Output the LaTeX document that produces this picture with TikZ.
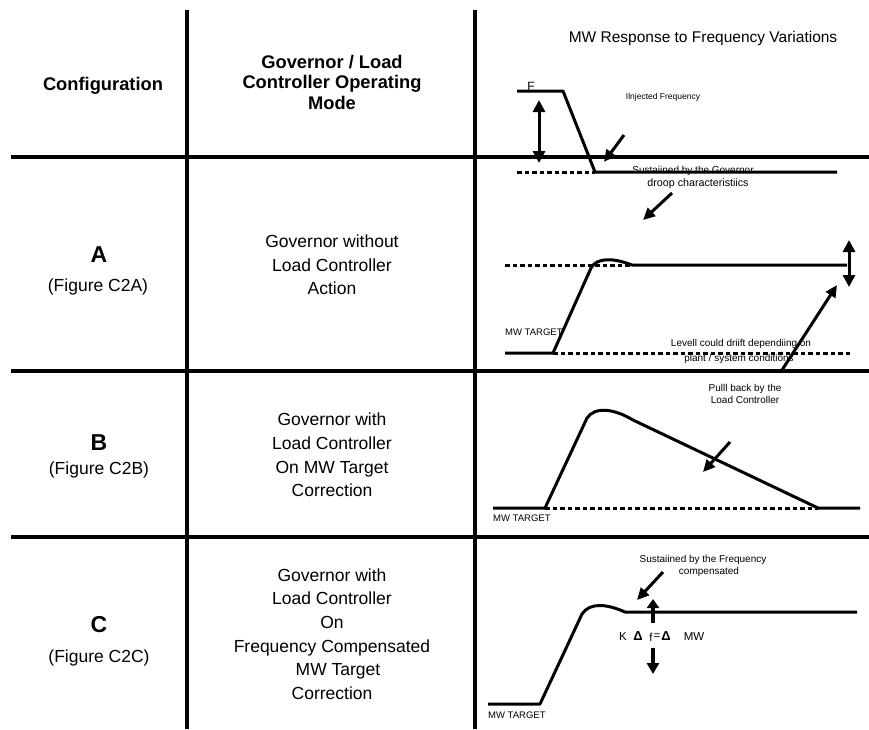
\documentclass[tikz,border=0pt]{standalone}
\usepackage{fontspec}
\setmainfont{Liberation Sans}
\usetikzlibrary{arrows.meta}
\tikzset{
  grid/.style={line width=3.5pt, draw=black},
  trace/.style={line width=3pt, line join=round, draw=black},
  dotline/.style={line width=3pt, draw=black, dash pattern=on 4.5pt off 3pt},
  arr/.style={line width=3pt, draw=black, -{Triangle[length=12pt,width=11pt]}},
  darr/.style={line width=3pt, draw=black, {Triangle[length=12pt,width=12pt]}-{Triangle[length=12pt,width=12pt]}},
  hdr/.style={font=\fontsize{18.3}{20.5}\selectfont\bfseries, align=center, inner sep=0pt},
  letter/.style={font=\fontsize{23}{26}\selectfont\bfseries, inner sep=0pt},
  figlbl/.style={font=\fontsize{17.5}{20}\selectfont, inner sep=0pt},
  mode/.style={font=\fontsize{17.5}{23.7}\selectfont, align=center, inner sep=0pt},
  small/.style={font=\fontsize{10}{12}\selectfont, inner sep=0pt, align=center},
  tgt/.style={font=\fontsize{9.5}{11}\selectfont, inner sep=0pt, anchor=west},
}
\begin{document}
\begin{tikzpicture}[x=1pt,y=-1pt]
\useasboundingbox (0,0) rectangle (869,729);
% grid
\coordinate (v1t) at (187,10); \coordinate (v1b) at (187,729);
\coordinate (v2t) at (475,10); \coordinate (v2b) at (475,729);
\coordinate (h1l) at (11,157); \coordinate (h1r) at (869,157);
\coordinate (h2l) at (11,371); \coordinate (h2r) at (869,371);
\coordinate (h3l) at (11,537); \coordinate (h3r) at (869,537);
\draw[grid] (v1t) -- (v1b);
\draw[grid] (v2t) -- (v2b);
\draw[grid] (h1l) -- (h1r);
\draw[grid] (h2l) -- (h2r);
\draw[grid] (h3l) -- (h3r);
% headers
\node[hdr] (cfg) at (103,86) {Configuration};
\node[hdr] (opmode) at (332,82) {Governor / Load\\Controller Operating\\Mode};
\node[font=\fontsize{15.5}{18}\selectfont, inner sep=0pt] (title) at (703,38) {MW Response to Frequency Variations};
% left column
\node[letter] (la) at (99,255) {A};
\node[figlbl] (fa) at (98,287) {(Figure C2A)};
\node[letter] (lb) at (99,443) {B};
\node[figlbl] (fb) at (99,470) {(Figure C2B)};
\node[letter] (lc) at (99,625) {C};
\node[figlbl] (fc) at (99,658) {(Figure C2C)};
% middle column
\node[mode] (ma) at (332,265) {Governor without\\Load Controller\\Action};
\node[mode] (mb) at (332,455) {Governor with\\Load Controller\\On MW Target\\Correction};
\node[mode] (mc) at (332,634) {Governor with\\Load Controller\\On\\Frequency Compensated\\\hspace*{12pt}MW Target\\Correction};
% ---------- top frequency plot
\node[font=\fontsize{12}{14}\selectfont, inner sep=0pt] (F) at (531,86) {F};
\node[font=\fontsize{8.5}{10}\selectfont, inner sep=0pt] (inj) at (663,97) {Ilnjected Frequency};
\node[small] (sus1) at (693,171) {Sustaiined by the Governor};
\node[small, font=\fontsize{10.7}{12}\selectfont] (droop) at (698,184) {droop characteristiics};
\coordinate (f1) at (517,91); \coordinate (f2) at (563,91);
\coordinate (f3) at (595,172); \coordinate (f4) at (837,172);
\coordinate (f0) at (517,172);
\draw[dotline] (f0) -- (f3);
\draw[trace] (f1) -- (f2) -- (f3) -- (f4);
\coordinate (fa1) at (539,100); \coordinate (fa2) at (539,163);
\draw[darr] (fa1) -- (fa2);
\coordinate (ia1) at (624,135); \coordinate (ia2) at (604,162);
\draw[arr] (ia1) -- (ia2);
\coordinate (da1) at (672,193); \coordinate (da2) at (643,220);
\draw[arr] (da1) -- (da2);
% ---------- row A plot
\node[tgt] (tga) at (505,332) {MW TARGET};
\node[small] (lev1) at (741,344) {Levell could driift dependiing on};
\node[small] (lev2) at (739,359) {plant / system conditions};
\coordinate (a0) at (505,265); \coordinate (a1) at (505,353);
\coordinate (a2) at (553,353); \coordinate (a3) at (591,268);
\coordinate (a4) at (632,265); \coordinate (a5) at (847,265);
\coordinate (a6) at (850,353);
\draw[dotline] (a0) -- (a4);
\draw[dotline] (a2) -- (a6);
\draw[trace] (a1) -- (a2) -- (a3) .. controls (597,257) and (614,258) .. (a4) -- (a5);
\coordinate (ad1) at (849,240); \coordinate (ad2) at (849,287);
\draw[darr] (ad1) -- (ad2);
\coordinate (aa1) at (782,370); \coordinate (aa2) at (837,285);
\draw[arr] (aa1) -- (aa2);
% ---------- row B plot
\node[small] (pull) at (745,394) {Pulll back by the\\Load Controller};
\node[tgt] (tgb) at (493,518) {MW TARGET};
\coordinate (b1) at (493,508); \coordinate (b2) at (545,508);
\coordinate (b3) at (587,418); \coordinate (b4) at (633,420);
\coordinate (b5) at (818,508); \coordinate (b6) at (860,508);
\draw[dotline] (b2) -- (b5);
\draw[trace] (b1) -- (b2) -- (b3) .. controls (595,406) and (615,409) .. (b4) -- (b5) -- (b6);
\coordinate (ba1) at (730,442); \coordinate (ba2) at (703,472);
\draw[arr] (ba1) -- (ba2);
% ---------- row C plot
\node[small] (susf) at (703,566) {Sustaiined by the Frequency\\\hspace*{12pt}compensated};
\node[tgt] (tgc) at (488,715) {MW TARGET};
\coordinate (c1) at (488,704); \coordinate (c2) at (540,704);
\coordinate (c3) at (582,614); \coordinate (c4) at (625,612);
\coordinate (c5) at (857,612);
\draw[trace] (c1) -- (c2) -- (c3) .. controls (590,602) and (607,604) .. (c4) -- (c5);
\coordinate (ca1) at (663,572); \coordinate (ca2) at (637,600);
\draw[arr] (ca1) -- (ca2);
\coordinate (cu1) at (653,623); \coordinate (cu2) at (653,599);
\draw[line width=3.5pt, -{Triangle[length=9pt,width=12pt]}] (cu1) -- (cu2);
\coordinate (cd1) at (653,648); \coordinate (cd2) at (653,674);
\draw[line width=3.5pt, -{Triangle[length=11pt,width=12pt]}] (cd1) -- (cd2);
\node[font=\fontsize{11.5}{13}\selectfont, inner sep=0pt] (kk) at (623,637) {K};
\node[font=\fontsize{13}{14}\selectfont\bfseries, inner sep=0pt] (d1) at (638,636) {Δ};
\node[font=\fontsize{11.5}{13}\selectfont, inner sep=0pt] (ff) at (651,637) {f};
\node[font=\fontsize{11.5}{13}\selectfont, inner sep=0pt] (eq) at (657,637) {=};
\node[font=\fontsize{13}{14}\selectfont\bfseries, inner sep=0pt] (d2) at (666,636) {Δ};
\node[font=\fontsize{11.5}{13}\selectfont, inner sep=0pt] (mw) at (694,637) {MW};
\end{tikzpicture}
\end{document}
